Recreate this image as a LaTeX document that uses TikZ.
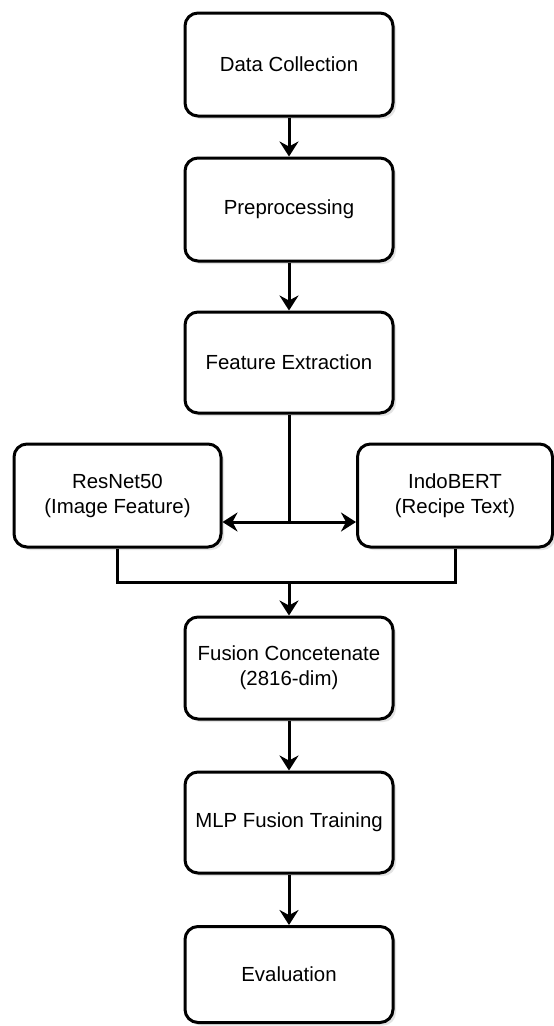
\documentclass[tikz,border=0pt]{standalone}
\usepackage{fontspec}
\setmainfont{Liberation Sans}
\usetikzlibrary{arrows.meta,shadows}

\begin{document}
\begin{tikzpicture}[x=1pt, y=-1pt,
  box/.style={draw, line width=3pt, rounded corners=13pt, fill=white,
    align=center, font=\fontsize{20.4}{25}\selectfont,
    minimum width=208pt, minimum height=103pt, inner sep=0pt,
    drop shadow={shadow xshift=3pt, shadow yshift=-3pt, opacity=0.18, fill=black!60}},
  link/.style={line width=3pt},
  flow/.style={link, -{Stealth[length=15pt, width=19pt, inset=5pt]}}]
\useasboundingbox (0,0) rectangle (554,1026);

%boxes
\node[box] (collect) at (289,64.5) {Data Collection};
\node[box] (prep) at (289,209.5) {Preprocessing};
\node[box, minimum height=101pt] (feat) at (289,362.5) {Feature Extraction};
\node[box, minimum width=207pt] (resnet) at (117.5,495.5) {ResNet50\\(Image Feature)};
\node[box, minimum width=195pt] (indobert) at (455,495.5) {IndoBERT\\(Recipe Text)};
\node[box, minimum height=102pt] (fusion) at (289,668) {Fusion Concetenate\\(2816-dim)};
\node[box, minimum height=101pt] (mlp) at (289,822.5) {MLP Fusion Training};
\node[box, minimum height=96pt] (eval) at (289,974.5) {Evaluation};

%branch points
\coordinate (split) at (289,522);
\coordinate (merge) at (289,582);

%arrows
\draw[flow] (collect) -- (prep);
\draw[flow] (prep) -- (feat);
\draw[link] (feat) -- (split);
\draw[flow] (split) -- (split -| resnet.east);
\draw[flow] (split) -- (split -| indobert.west);
\draw[link] (resnet.south) |- (merge) -| (indobert.south);
\draw[flow] (merge) -- (fusion);
\draw[flow] (fusion) -- (mlp);
\draw[flow] (mlp) -- (eval);
\end{tikzpicture}
\end{document}
